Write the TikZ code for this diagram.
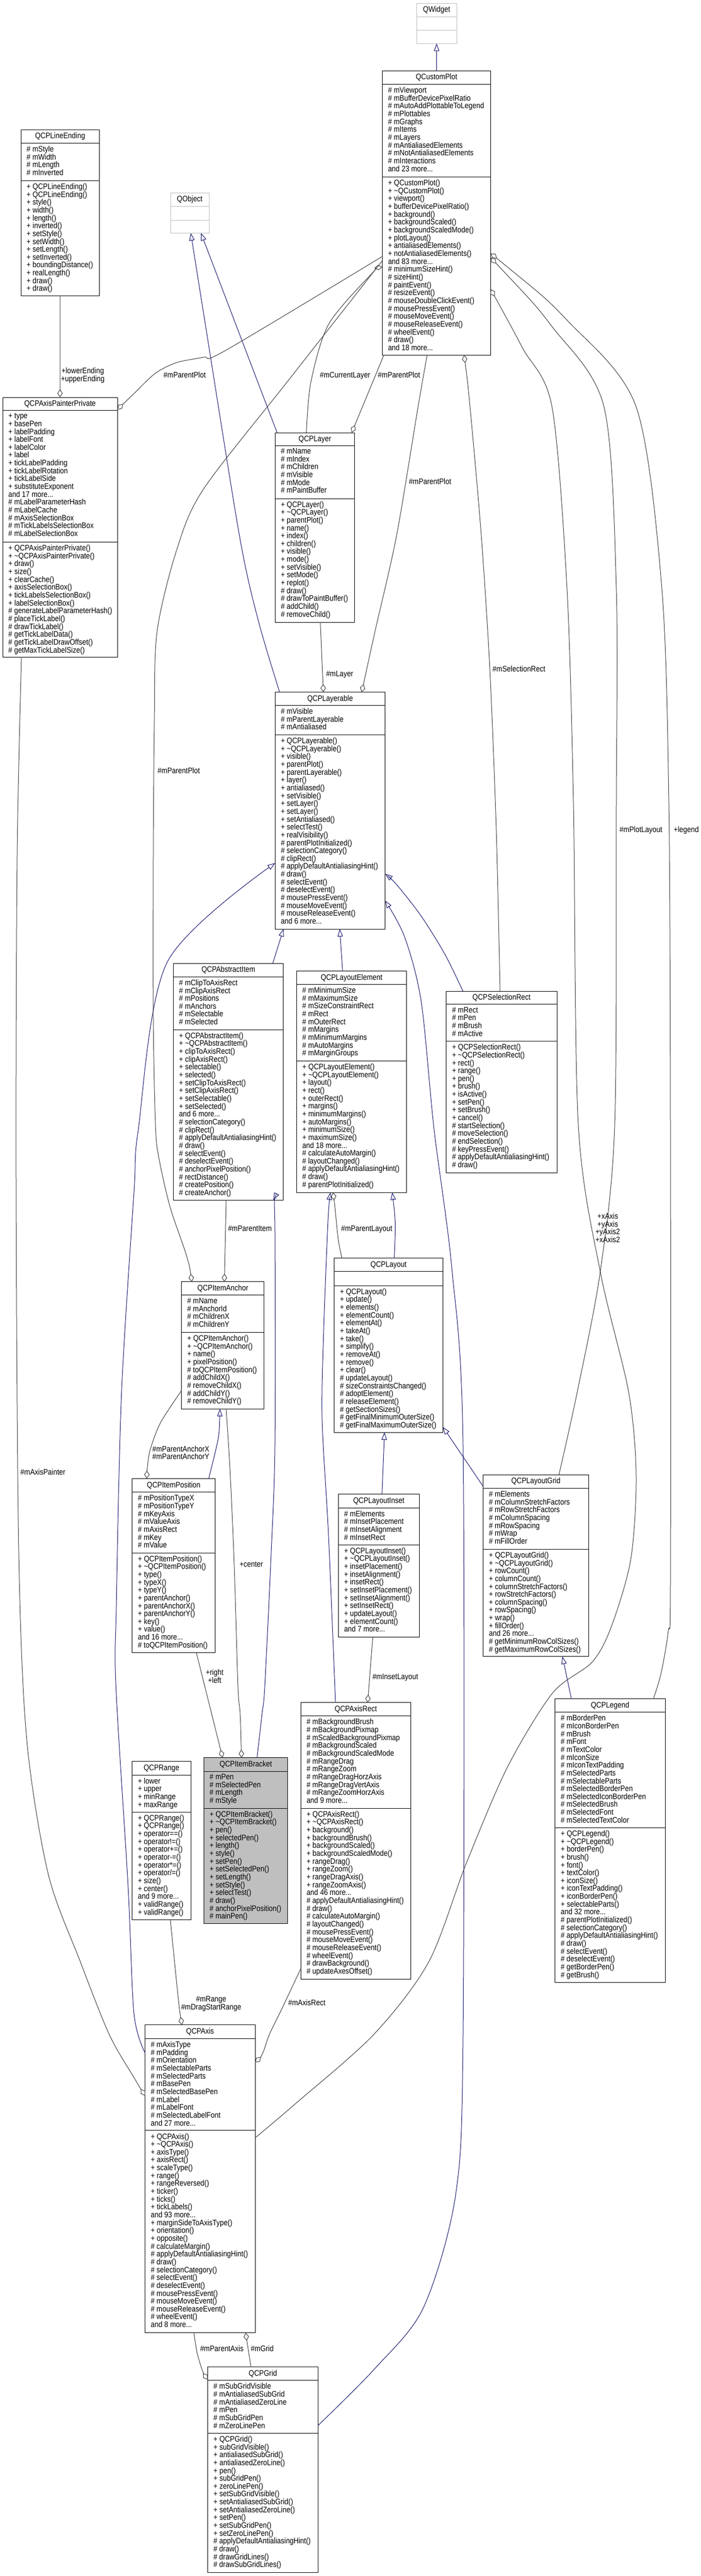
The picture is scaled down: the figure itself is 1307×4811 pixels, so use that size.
\documentclass[tikz,border=0pt]{standalone}
\usepackage{fontspec}
\setmainfont{Liberation Sans}
\newfontfamily\umlfam[FakeStretch=0.8667]{Liberation Sans}
\usetikzlibrary{arrows.meta,calc}
\definecolor{inhblue}{HTML}{191970}
\definecolor{compgray}{HTML}{404040}
\definecolor{extgray}{HTML}{BFBFBF}
\newcommand\umlf{\umlfam\fontsize{15}{14.65}\selectfont}
\def\umlgeom#1,#2,#3,#4,#5,#6\relax{\def\ux{#1}\def\uxx{#2}\def\uyt{#3}\def\udo{#4}\def\udt{#5}\def\uyb{#6}}
\newcommand\umlclass[6][plainbox]{%
  \umlgeom#3\relax
  \node[#1, anchor=north west, minimum width={\uxx-\ux}, minimum height={\uyb-\uyt}] (#2) at (\ux,\uyt) {};
  \draw[#1 line] (\ux,\udo) -- (\uxx,\udo) (\ux,\udt) -- (\uxx,\udt);
  \node[umltitle] (#2-t) at ({(\ux+\uxx)/2},{\uyt+16.5}) {#4};
  \node[umllist] (#2-a) at ({\ux+10.5},{\udo+5}) {#5};
  \node[umllist] (#2-m) at ({\ux+10.5},{\udt+5}) {#6};
}
\newcommand\tld{\textasciitilde}
\tikzset{
  plainbox/.style={draw=black, fill=white, line width=1pt, inner sep=0pt, outer sep=0pt},
  plainbox line/.style={draw=black, line width=1pt},
  extbox/.style={draw=extgray, fill=white, line width=1pt, inner sep=0pt, outer sep=0pt},
  extbox line/.style={draw=extgray, line width=1pt},
  hlbox/.style={draw=black, fill=extgray, line width=1pt, inner sep=0pt, outer sep=0pt},
  hlbox line/.style={draw=black, line width=1pt},
  umltitle/.style={anchor=base, inner sep=0pt, font=\umlf},
  umllist/.style={anchor=north west, inner sep=0pt, align=left, font=\umlf},
  elabel/.style={anchor=north west, inner sep=0pt, align=left, font=\umlf},
  clabel/.style={anchor=north, inner sep=0pt, align=center, font=\umlf},
  inh/.style={draw=inhblue, line width=1pt, -{Triangle[open, length=14pt, width=10pt]}},
  comp/.style={draw=compgray, line width=1pt, {Diamond[open, length=15pt, width=10pt]}-},
}
\begin{document}
\begin{tikzpicture}[x=1pt,y=-1pt]
\useasboundingbox (0,0) rectangle (1307,4811);
\fill[white] (0,0) rectangle (1307,4811);

% ---------------- classes ----------------
\umlclass[extbox]{QWidget}{777.4,852,6,31.5,56.7,81.4}{QWidget}{}{}
\umlclass[extbox]{QObject}{318,390,360.4,385,411,435.3}{QObject}{}{}

\umlclass{QCustomPlot}{713.3,915.7,132.3,157.5,330.6,663}{QCustomPlot}
{\# mViewport\\\# mBufferDevicePixelRatio\\\# mAutoAddPlottableToLegend\\\# mPlottables\\\# mGraphs\\\# mItems\\\# mLayers\\\# mAntialiasedElements\\\# mNotAntialiasedElements\\\# mInteractions\\and 23 more...}
{+ QCustomPlot()\\+ \tld QCustomPlot()\\+ viewport()\\+ bufferDevicePixelRatio()\\+ background()\\+ backgroundScaled()\\+ backgroundScaledMode()\\+ plotLayout()\\+ antialiasedElements()\\+ notAntialiasedElements()\\and 83 more...\\\# minimumSizeHint()\\\# sizeHint()\\\# paintEvent()\\\# resizeEvent()\\\# mouseDoubleClickEvent()\\\# mousePressEvent()\\\# mouseMoveEvent()\\\# mouseReleaseEvent()\\\# wheelEvent()\\\# draw()\\and 18 more...}

\umlclass{QCPLineEnding}{39,185.3,242.4,267.6,337.4,552.7}{QCPLineEnding}
{\# mStyle\\\# mWidth\\\# mLength\\\# mInverted}
{+ QCPLineEnding()\\+ QCPLineEnding()\\+ style()\\+ width()\\+ length()\\+ inverted()\\+ setStyle()\\+ setWidth()\\+ setLength()\\+ setInverted()\\+ boundingDistance()\\+ realLength()\\+ draw()\\+ draw()}

\umlclass{QCPAxisPainterPrivate}{5,219,742,766.8,1012.5,1227}{QCPAxisPainterPrivate}
{+ type\\+ basePen\\+ labelPadding\\+ labelFont\\+ labelColor\\+ label\\+ tickLabelPadding\\+ tickLabelRotation\\+ tickLabelSide\\+ substituteExponent\\and 17 more...\\\# mLabelParameterHash\\\# mLabelCache\\\# mAxisSelectionBox\\\# mTickLabelsSelectionBox\\\# mLabelSelectionBox}
{+ QCPAxisPainterPrivate()\\+ \tld QCPAxisPainterPrivate()\\+ draw()\\+ size()\\+ clearCache()\\+ axisSelectionBox()\\+ tickLabelsSelectionBox()\\+ labelSelectionBox()\\\# generateLabelParameterHash()\\\# placeTickLabel()\\\# drawTickLabel()\\\# getTickLabelData()\\\# getTickLabelDrawOffset()\\\# getMaxTickLabelSize()}

\umlclass{QCPLayer}{513.3,661.7,808,832,931,1162}{QCPLayer}
{\# mName\\\# mIndex\\\# mChildren\\\# mVisible\\\# mMode\\\# mPaintBuffer}
{+ QCPLayer()\\+ \tld QCPLayer()\\+ parentPlot()\\+ name()\\+ index()\\+ children()\\+ visible()\\+ mode()\\+ setVisible()\\+ setMode()\\+ replot()\\\# draw()\\\# drawToPaintBuffer()\\\# addChild()\\\# removeChild()}

\umlclass{QCPLayerable}{513.3,718.5,1292.6,1317.5,1372.5,1735}{QCPLayerable}
{\# mVisible\\\# mParentLayerable\\\# mAntialiased}
{+ QCPLayerable()\\+ \tld QCPLayerable()\\+ visible()\\+ parentPlot()\\+ parentLayerable()\\+ layer()\\+ antialiased()\\+ setVisible()\\+ setLayer()\\+ setLayer()\\+ setAntialiased()\\+ selectTest()\\+ realVisibility()\\\# parentPlotInitialized()\\\# selectionCategory()\\\# clipRect()\\\# applyDefaultAntialiasingHint()\\\# draw()\\\# selectEvent()\\\# deselectEvent()\\\# mousePressEvent()\\\# mouseMoveEvent()\\\# mouseReleaseEvent()\\and 6 more...}

\umlclass{QCPAbstractItem}{323.5,528.8,1799,1824.3,1923.2,2241.6}{QCPAbstractItem}
{\# mClipToAxisRect\\\# mClipAxisRect\\\# mPositions\\\# mAnchors\\\# mSelectable\\\# mSelected}
{+ QCPAbstractItem()\\+ \tld QCPAbstractItem()\\+ clipToAxisRect()\\+ clipAxisRect()\\+ selectable()\\+ selected()\\+ setClipToAxisRect()\\+ setClipAxisRect()\\+ setSelectable()\\+ setSelected()\\and 6 more...\\\# selectionCategory()\\\# clipRect()\\\# applyDefaultAntialiasingHint()\\\# draw()\\\# selectEvent()\\\# deselectEvent()\\\# anchorPixelPosition()\\\# rectDistance()\\\# createPosition()\\\# createAnchor()}

\umlclass{QCPLayoutElement}{553.5,758.5,1813.6,1838.6,1981.4,2227}{QCPLayoutElement}
{\# mMinimumSize\\\# mMaximumSize\\\# mSizeConstraintRect\\\# mRect\\\# mOuterRect\\\# mMargins\\\# mMinimumMargins\\\# mAutoMargins\\\# mMarginGroups}
{+ QCPLayoutElement()\\+ \tld QCPLayoutElement()\\+ layout()\\+ rect()\\+ outerRect()\\+ margins()\\+ minimumMargins()\\+ autoMargins()\\+ minimumSize()\\+ maximumSize()\\and 18 more...\\\# calculateAutoMargin()\\\# layoutChanged()\\\# applyDefaultAntialiasingHint()\\\# draw()\\\# parentPlotInitialized()}

\umlclass{QCPSelectionRect}{832.8,1039,1851,1875.7,1944.6,2190}{QCPSelectionRect}
{\# mRect\\\# mPen\\\# mBrush\\\# mActive}
{+ QCPSelectionRect()\\+ \tld QCPSelectionRect()\\+ rect()\\+ range()\\+ pen()\\+ brush()\\+ isActive()\\+ setPen()\\+ setBrush()\\+ cancel()\\\# startSelection()\\\# moveSelection()\\\# endSelection()\\\# keyPressEvent()\\\# applyDefaultAntialiasingHint()\\\# draw()}

\umlclass{QCPItemAnchor}{338.7,492.9,2393.9,2418.8,2488.4,2631.3}{QCPItemAnchor}
{\# mName\\\# mAnchorId\\\# mChildrenX\\\# mChildrenY}
{+ QCPItemAnchor()\\+ \tld QCPItemAnchor()\\+ name()\\+ pixelPosition()\\\# toQCPItemPosition()\\\# addChildX()\\\# removeChildX()\\\# addChildY()\\\# removeChildY()}

\umlclass{QCPLayout}{623.6,826.4,2349.9,2374.8,2401.2,2675}{QCPLayout}
{}
{+ QCPLayout()\\+ update()\\+ elements()\\+ elementCount()\\+ elementAt()\\+ takeAt()\\+ take()\\+ simplify()\\+ removeAt()\\+ remove()\\+ clear()\\\# updateLayout()\\\# sizeConstraintsChanged()\\\# adoptElement()\\\# releaseElement()\\\# getSectionSizes()\\\# getFinalMinimumOuterSize()\\\# getFinalMaximumOuterSize()}

\umlclass{QCPItemPosition}{246.7,401.3,2761.5,2786.8,2900,3086.8}{QCPItemPosition}
{\# mPositionTypeX\\\# mPositionTypeY\\\# mKeyAxis\\\# mValueAxis\\\# mAxisRect\\\# mKey\\\# mValue}
{+ QCPItemPosition()\\+ \tld QCPItemPosition()\\+ type()\\+ typeX()\\+ typeY()\\+ parentAnchor()\\+ parentAnchorX()\\+ parentAnchorY()\\+ key()\\+ value()\\and 16 more...\\\# toQCPItemPosition()}

\umlclass{QCPLayoutInset}{631.3,782.1,2790.6,2816.2,2885.1,3057.3}{QCPLayoutInset}
{\# mElements\\\# mInsetPlacement\\\# mInsetAlignment\\\# mInsetRect}
{+ QCPLayoutInset()\\+ \tld QCPLayoutInset()\\+ insetPlacement()\\+ insetAlignment()\\+ insetRect()\\+ setInsetPlacement()\\+ setInsetAlignment()\\+ setInsetRect()\\+ updateLayout()\\+ elementCount()\\and 7 more...}

\umlclass{QCPLayoutGrid}{901.7,1098.1,2754,2779.5,2893.3,3093.8}{QCPLayoutGrid}
{\# mElements\\\# mColumnStretchFactors\\\# mRowStretchFactors\\\# mColumnSpacing\\\# mRowSpacing\\\# mWrap\\\# mFillOrder}
{+ QCPLayoutGrid()\\+ \tld QCPLayoutGrid()\\+ rowCount()\\+ columnCount()\\+ columnStretchFactors()\\+ rowStretchFactors()\\+ columnSpacing()\\+ rowSpacing()\\+ wrap()\\+ fillOrder()\\and 26 more...\\\# getMinimumRowColSizes()\\\# getMaximumRowColSizes()}

\umlclass{QCPLegend}{1035.7,1241,3172.8,3197.7,3413.3,3702.7}{QCPLegend}
{\# mBorderPen\\\# mIconBorderPen\\\# mBrush\\\# mFont\\\# mTextColor\\\# mIconSize\\\# mIconTextPadding\\\# mSelectedParts\\\# mSelectableParts\\\# mSelectedBorderPen\\\# mSelectedIconBorderPen\\\# mSelectedBrush\\\# mSelectedFont\\\# mSelectedTextColor}
{+ QCPLegend()\\+ \tld QCPLegend()\\+ borderPen()\\+ brush()\\+ font()\\+ textColor()\\+ iconSize()\\+ iconTextPadding()\\+ iconBorderPen()\\+ selectableParts()\\and 32 more...\\\# parentPlotInitialized()\\\# selectionCategory()\\\# applyDefaultAntialiasingHint()\\\# draw()\\\# selectEvent()\\\# deselectEvent()\\\# getBorderPen()\\\# getBrush()}

\umlclass{QCPRange}{246.6,356,3289.7,3315,3384.2,3585.7}{QCPRange}
{+ lower\\+ upper\\+ minRange\\+ maxRange}
{+ QCPRange()\\+ QCPRange()\\+ operator==()\\+ operator!=()\\+ operator+=()\\+ operator-=()\\+ operator*=()\\+ operator/=()\\+ size()\\+ center()\\and 9 more...\\+ validRange()\\+ validRange()}

\umlclass[hlbox]{QCPItemBracket}{380.5,536.8,3282.7,3308,3377.2,3592.8}{QCPItemBracket}
{\# mPen\\\# mSelectedPen\\\# mLength\\\# mStyle}
{+ QCPItemBracket()\\+ \tld QCPItemBracket()\\+ pen()\\+ selectedPen()\\+ length()\\+ style()\\+ setPen()\\+ setSelectedPen()\\+ setLength()\\+ setStyle()\\+ selectTest()\\\# draw()\\\# anchorPixelPosition()\\\# mainPen()}

\umlclass{QCPAxisRect}{561.3,766.5,3179.9,3204.7,3377.2,3696}{QCPAxisRect}
{\# mBackgroundBrush\\\# mBackgroundPixmap\\\# mScaledBackgroundPixmap\\\# mBackgroundScaled\\\# mBackgroundScaledMode\\\# mRangeDrag\\\# mRangeZoom\\\# mRangeDragHorzAxis\\\# mRangeDragVertAxis\\\# mRangeZoomHorzAxis\\and 9 more...}
{+ QCPAxisRect()\\+ \tld QCPAxisRect()\\+ background()\\+ backgroundBrush()\\+ backgroundScaled()\\+ backgroundScaledMode()\\+ rangeDrag()\\+ rangeZoom()\\+ rangeDragAxis()\\+ rangeZoomAxis()\\and 46 more...\\\# applyDefaultAntialiasingHint()\\\# draw()\\\# calculateAutoMargin()\\\# layoutChanged()\\\# mousePressEvent()\\\# mouseMoveEvent()\\\# mouseReleaseEvent()\\\# wheelEvent()\\\# drawBackground()\\\# updateAxesOffset()}

\umlclass{QCPAxis}{270.7,476,3781.8,3807.4,3978.9,4356.7}{QCPAxis}
{\# mAxisType\\\# mPadding\\\# mOrientation\\\# mSelectableParts\\\# mSelectedParts\\\# mBasePen\\\# mSelectedBasePen\\\# mLabel\\\# mLabelFont\\\# mSelectedLabelFont\\and 27 more...}
{+ QCPAxis()\\+ \tld QCPAxis()\\+ axisType()\\+ axisRect()\\+ scaleType()\\+ range()\\+ rangeReversed()\\+ ticker()\\+ ticks()\\+ tickLabels()\\and 93 more...\\+ marginSideToAxisType()\\+ orientation()\\+ opposite()\\\# calculateMargin()\\\# applyDefaultAntialiasingHint()\\\# draw()\\\# selectionCategory()\\\# selectEvent()\\\# deselectEvent()\\\# mousePressEvent()\\\# mouseMoveEvent()\\\# mouseReleaseEvent()\\\# wheelEvent()\\and 8 more...}

\umlclass{QCPGrid}{387.7,593.3,4420.7,4445.7,4544.3,4804.3}{QCPGrid}
{\# mSubGridVisible\\\# mAntialiasedSubGrid\\\# mAntialiasedZeroLine\\\# mPen\\\# mSubGridPen\\\# mZeroLinePen}
{+ QCPGrid()\\+ subGridVisible()\\+ antialiasedSubGrid()\\+ antialiasedZeroLine()\\+ pen()\\+ subGridPen()\\+ zeroLinePen()\\+ setSubGridVisible()\\+ setAntialiasedSubGrid()\\+ setAntialiasedZeroLine()\\+ setPen()\\+ setSubGridPen()\\+ setZeroLinePen()\\\# applyDefaultAntialiasingHint()\\\# draw()\\\# drawGridLines()\\\# drawSubGridLines()}

% ---------------- inheritance ----------------
\draw[inh] (QCustomPlot.north) -- (QWidget.south);

\coordinate (e2a) at ([shift={(3.7,0)}]QCPLayer.north west);
\coordinate (e2b) at ([shift={(57,0)}]QObject.south west);
\draw[inh] (e2a) -- (e2b);

\coordinate (e3a) at ([shift={(8.4,0)}]QCPLayerable.north west);
\coordinate (e3b) at ([shift={(38,0)}]QObject.south west);
\draw[inh] plot[smooth] coordinates {(e3a) (481.7,1158) (446.7,1000) (380,586) (e3b)};

\coordinate (e9a) at ([shift={(185.5,0)}]QCPAbstractItem.north west);
\coordinate (e9b) at ([shift={(15.7,0)}]QCPLayerable.south west);
\draw[inh] (e9a) -- (e9b);

\coordinate (e10a) at ([shift={(85.8,0)}]QCPLayoutElement.north west);
\coordinate (e10b) at ([shift={(120.6,0)}]QCPLayerable.south west);
\draw[inh] (e10a) -- (e10b);

\coordinate (e11a) at ([shift={(31,0)}]QCPSelectionRect.north west);
\coordinate (e11b) at ([shift={(0,339.4)}]QCPLayerable.north east);
\draw[inh] plot[smooth] coordinates {(e11a) (830,1782) (786,1711) (740,1652) (e11b)};

\coordinate (e12a) at ([shift={(0,109.3)}]QCPGrid.north east);
\coordinate (e12b) at ([shift={(0,389.4)}]QCPLayerable.north east);
\draw[inh] plot[smooth] coordinates {(e12a) (700,4423) (790,4310) (850,4100) (864,3800) (864,2700) (843,2368) (810,2110) (786,1871) (755,1750) (e12b)};

\coordinate (e13a) at ([shift={(0,52.2)}]QCPAxis.north west);
\coordinate (e13b) at ([shift={(0,319.4)}]QCPLayerable.north west);
\draw[inh] plot[smooth] coordinates {(e13a) (250,3761) (239,3523) (216.3,3150) (217,3000) (226.8,2600) (250,2226) (258,2110) (312.5,1796) (e13b)};

\coordinate (e14a) at ([shift={(99.1,0)}]QCPItemBracket.north west);
\coordinate (e14b) at ([shift={(186.5,0)}]QCPAbstractItem.south west);
\draw[inh] plot[smooth] coordinates {(e14a) (489,3200) (494,3150) (506,2900) (513,2700) (513,2300) (e14b)};

\coordinate (e15a) at ([shift={(111.9,0)}]QCPLayout.north west);
\coordinate (e15b) at ([shift={(178.5,0)}]QCPLayoutElement.south west);
\draw[inh] plot[smooth] coordinates {(e15a) (737.5,2285) (e15b)};

\coordinate (e17a) at ([shift={(64.7,0)}]QCPAxisRect.north west);
\coordinate (e17b) at ([shift={(63,0)}]QCPLayoutElement.south west);
\draw[inh] plot[smooth] coordinates {(e17a) (613,2868) (601,2650) (604,2483) (612,2280) (e17b)};

\coordinate (e18a) at ([shift={(81.5,0)}]QCPLayoutInset.north west);
\coordinate (e18b) at ([shift={(93.8,0)}]QCPLayout.south west);
\draw[inh] (e18a) -- (e18b);

\coordinate (e19a) at ([shift={(0,22.3)}]QCPLayoutGrid.north west);
\coordinate (e19b) at ([shift={(0,-10)}]QCPLayout.south east);
\draw[inh] (e19a) -- (e19b);

\coordinate (e20a) at ([shift={(30.5,0)}]QCPLegend.north west);
\coordinate (e20b) at ([shift={(147.8,0)}]QCPLayoutGrid.south west);
\draw[inh] (e20a) -- (e20b);

\coordinate (e21a) at ([shift={(142.7,0)}]QCPItemPosition.north west);
\coordinate (e21b) at ([shift={(71.8,0)}]QCPItemAnchor.south west);
\draw[inh] plot[smooth] coordinates {(e21a) (402.8,2707) (408.6,2676) (e21b)};

% ---------------- usage / composition ----------------
\draw[comp] (QCPAxisPainterPrivate.north) -- (QCPLineEnding.south);

\coordinate (e5a) at ([shift={(0,23)}]QCPAxisPainterPrivate.north east);
\coordinate (e5b) at ([shift={(0,346.7)}]QCustomPlot.north west);
\draw[comp] plot[smooth] coordinates {(e5a) (250,735) (290,697) (330,677) (380,667) (420,655) (e5b)};

\coordinate (e6a) at ([shift={(0,366)}]QCustomPlot.north west);
\coordinate (e6b) at ([shift={(58.4,0)}]QCPLayer.north west);
\draw[comp] plot[smooth] coordinates {(e6a) (690,515) (613,606) (580,714) (e6b)};

\coordinate (e7a) at ([shift={(143,0)}]QCPLayer.north west);
\coordinate (e7b) at ([shift={(3,0)}]QCustomPlot.south west);
\draw[comp] (e7a) -- (e7b);

\coordinate (e37a) at ([shift={(161.7,0)}]QCPLayerable.north west);
\coordinate (e37b) at ([shift={(83.7,0)}]QCustomPlot.south west);
\draw[comp] plot[smooth] coordinates {(e37a) (700,1178) (740,1000) (780,760) (e37b)};

\coordinate (e36a) at ([shift={(90,0)}]QCPLayerable.north west);
\coordinate (e36b) at ([shift={(84.4,0)}]QCPLayer.south west);
\draw[comp] (e36a) -- (e36b);

\coordinate (e39a) at ([shift={(152.7,0)}]QCustomPlot.south west);
\coordinate (e39b) at ([shift={(100.2,0)}]QCPSelectionRect.north west);
\draw[comp] plot[smooth] coordinates {(e39a) (877,760) (898,1000) (914,1250) (926,1550) (e39b)};

\coordinate (e29a) at ([shift={(0,408)}]QCustomPlot.north east);
\coordinate (e29b) at ([shift={(0,211)}]QCPAxis.north east);
\draw[comp] plot[smooth] coordinates {(e29a) (975,650) (1030,760) (1058,1100) (1070,1500) (1079,2100) (1120,2375) (1173,2600) (1187,2756) (1177,2912) (1141,3037) (1105,3104) (1031,3162) (947,3300) (870,3480) (800,3664) (697,3800) (550,3930) (e29b)};

\coordinate (e30a) at ([shift={(0,349)}]QCustomPlot.north east);
\coordinate (e30b) at ([shift={(141.3,0)}]QCPLayoutGrid.north west);
\draw[comp] plot[smooth] coordinates {(e30a) (1030,610) (1127,760) (1150,1100) (1150,1500) (1147,2100) (1120,2375) (1077,2600) (e30b)};

\coordinate (e31a) at ([shift={(0,341)}]QCustomPlot.north east);
\coordinate (e31b) at ([shift={(183.3,0)}]QCPLegend.north west);
\draw[comp] plot[smooth] coordinates {(e31a) (1060,600) (1187,760) (1235,1100) (1248,1500) (1251,2100) (1251,2957) (1247,3046) (1233,3127) (e31b)};

\coordinate (e24a) at ([shift={(19.3,0)}]QCPItemAnchor.north west);
\coordinate (e24b) at ([shift={(0,354.7)}]QCustomPlot.north west);
\draw[comp] plot[smooth] coordinates {(e24a) (348,2345) (317,2253) (296,2160) (290,2100) (286,1900) (286,1600) (288,1350) (293,1180) (330,1026) (380,913) (540,708) (e24b)};

\coordinate (e16a) at ([shift={(68,0)}]QCPLayoutElement.south west);
\coordinate (e16b) at ([shift={(14.4,0)}]QCPLayout.north west);
\draw[comp] plot[smooth] coordinates {(e16a) (625,2255) (631,2314) (e16b)};

\coordinate (e22a) at ([shift={(27.2,0)}]QCPItemPosition.north west);
\coordinate (e22b) at ([shift={(0,203.1)}]QCPItemAnchor.north west);
\draw[comp] plot[smooth] coordinates {(e22a) (275,2740) (280.4,2707) (299.5,2657) (e22b)};

\coordinate (e23a) at ([shift={(79.9,0)}]QCPItemAnchor.north west);
\coordinate (e23b) at ([shift={(98.5,0)}]QCPAbstractItem.south west);
\draw[comp] (e23a) -- (e23b);

\coordinate (e25a) at ([shift={(70.1,0)}]QCPItemBracket.north west);
\coordinate (e25b) at ([shift={(83.3,0)}]QCPItemAnchor.south west);
\draw[comp] plot[smooth] coordinates {(e25a) (448,3200) (444,3150) (437,2922) (429.6,2753) (e25b)};

\coordinate (e26a) at ([shift={(34.8,0)}]QCPItemBracket.north west);
\coordinate (e26b) at ([shift={(119.8,0)}]QCPItemPosition.south west);
\draw[comp] (e26a) -- (e26b);

\coordinate (e27a) at ([shift={(68.8,0)}]QCPAxis.north west);
\coordinate (e27b) at ([shift={(71.3,0)}]QCPRange.south west);
\draw[comp] plot[smooth] coordinates {(e27a) (332.4,3730) (e27b)};

\coordinate (e28a) at ([shift={(0,70)}]QCPAxis.north east);
\coordinate (e28b) at ([shift={(0,496.6)}]QCPAxisRect.north west);
\draw[comp] plot[smooth] coordinates {(e28a) (490,3835) (502.4,3800) (526.7,3750) (e28b)};

\coordinate (e32a) at ([shift={(124.7,0)}]QCPAxisRect.north west);
\coordinate (e32b) at ([shift={(64.3,0)}]QCPLayoutInset.south west);
\draw[comp] (e32a) -- (e32b);

\coordinate (e33a) at ([shift={(0,132.2)}]QCPAxis.north west);
\coordinate (e33b) at ([shift={(35,0)}]QCPAxisPainterPrivate.south west);
\draw[comp] plot[smooth] coordinates {(e33a) (250,3880) (204,3800) (150,3664) (90,3500) (50,3250) (35,2900) (30,2200) (32,1600) (e33b)};

\coordinate (e34a) at ([shift={(0,23.5)}]QCPGrid.north west);
\coordinate (e34b) at ([shift={(91,0)}]QCPAxis.south west);
\draw[comp] plot[smooth] coordinates {(e34a) (378,4428) (368,4395) (e34b)};

\coordinate (e35a) at ([shift={(187.6,0)}]QCPAxis.south west);
\coordinate (e35b) at ([shift={(80.6,0)}]QCPGrid.north west);
\draw[comp] (e35a) -- (e35b);

% ---------------- edge labels ----------------
\node[clabel] (l1) at (154.5,686.5) {+lowerEnding\\+upperEnding};
\node[elabel] (l2) at (305,694.5) {\#mParentPlot};
\node[elabel] (l3) at (596.7,694.5) {\#mCurrentLayer};
\node[elabel] (l4) at (705,694.5) {\#mParentPlot};
\node[elabel] (l5) at (763,893.5) {\#mParentPlot};
\node[elabel] (l6) at (919,1243.5) {\#mSelectionRect};
\node[elabel] (l7) at (1156,1543.5) {\#mPlotLayout};
\node[elabel] (l8) at (1257,1543.5) {+legend};
\node[elabel] (l9) at (294,1433.5) {\#mParentPlot};
\node[elabel] (l10) at (608.3,1252.9) {\#mLayer};
\node[elabel] (l11) at (425.3,2288.7) {\#mParentItem};
\node[elabel] (l12) at (636.4,2288.7) {\#mParentLayout};
\node[clabel] (l13) at (1134,2265.5) {+xAxis\\+yAxis\\+yAxis2\\+xAxis2};
\node[clabel] (l14) at (337.5,2699.9) {\#mParentAnchorX\\\#mParentAnchorY};
\node[elabel] (l15) at (446.8,2916.1) {+center};
\node[clabel] (l16) at (400.5,3117.8) {+right\\+left};
\node[elabel] (l17) at (694.8,3125.5) {\#mInsetLayout};
\node[clabel] (l18) at (394,3728.1) {\#mRange\\\#mDragStartRange};
\node[elabel] (l19) at (537.6,3734.3) {\#mAxisRect};
\node[elabel] (l20) at (373.3,4380.8) {\#mParentAxis};
\node[elabel] (l21) at (467.7,4380.8) {\#mGrid};
\node[elabel] (l22) at (38,2743.5) {\#mAxisPainter};
\end{tikzpicture}
\end{document}
